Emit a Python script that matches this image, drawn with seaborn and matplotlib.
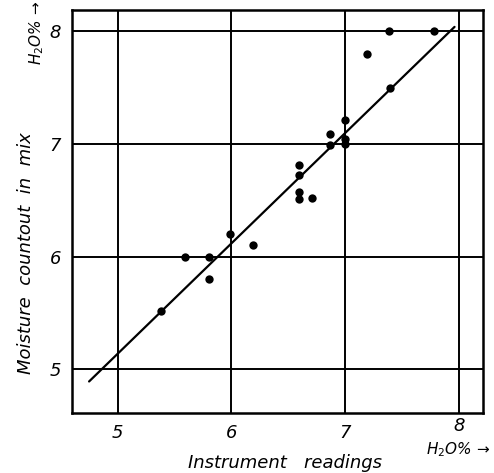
import matplotlib
matplotlib.use("Agg")
import matplotlib.pyplot as plt
import matplotlib.transforms as mtransforms
import seaborn as sns
import pandas as pd

# Data
instrument = [7.38, 7.78, 7.19, 7.39, 7.00, 6.87, 6.87, 7.00, 7.00, 6.59, 6.59, 6.59,
              6.59, 6.71, 5.99, 6.19, 5.59, 5.80, 5.80, 5.38]
moisture = [8.00, 8.00, 7.80, 7.50, 7.21, 7.09, 6.99, 7.04, 7.00, 6.81, 6.72, 6.57,
            6.51, 6.52, 6.20, 6.10, 6.00, 6.00, 5.80, 5.52]
fit_x = [4.75, 7.96]
fit_y = [4.89, 8.04]
ticks = [5, 6, 7, 8]
tick_labels = ["5", "6", "7", "8"]

sns.set_theme(style="white")
plt.rcParams['font.family'] = ['DejaVu Sans']
plt.rcParams['text.color'] = 'black'
plt.rcParams['xtick.color'] = 'black'
plt.rcParams['ytick.color'] = 'black'

fig = plt.figure(figsize=(4.94, 4.73), dpi=100)
ax = fig.add_axes([72 / 494, (473 - 413) / 473, 411 / 494, 403 / 473])

df = pd.DataFrame({"x": instrument, "y": moisture})
fit = pd.DataFrame({"x": fit_x, "y": fit_y})

for t in ticks:
    ax.axvline(t, color="black", lw=1.4, zorder=1)
    ax.axhline(t, color="black", lw=1.4, zorder=1)

sns.lineplot(data=fit, x="x", y="y", ax=ax, color="black", lw=1.6, zorder=2)
sns.scatterplot(data=df, x="x", y="y", ax=ax, color="black", s=36,
                edgecolor="black", linewidth=0, zorder=3)

ax.set_xlim(4.6, 8.21)
ax.set_ylim(4.61, 8.19)
ax.set_xticks(ticks)
ax.set_yticks(ticks)
ax.set_xticklabels(tick_labels, fontsize=13, fontstyle="italic", color="black")
ax.set_yticklabels(tick_labels, fontsize=13, fontstyle="italic", color="black")
ax.tick_params(length=0, pad=8)
ax.set_xlabel("")
ax.set_ylabel("")
for s in ax.spines.values():
    s.set_color("black")
    s.set_linewidth(1.8)

# the "8" label sits a little higher in the reference
lab8 = ax.get_xticklabels()[-1]
lab8.set_transform(lab8.get_transform() + mtransforms.ScaledTranslation(0, 7 / 100, fig.dpi_scale_trans))

fig.text(285 / 494, 1 - 463 / 473, "Instrument   readings", ha="center", va="center",
         fontsize=13, fontstyle="italic", color="black")
fig.text(458 / 494, 1 - 450 / 473, "H$_2$O% →", ha="center", va="center",
         fontsize=11, fontstyle="italic", color="black")
fig.text(26 / 494, 1 - 253 / 473, "Moisture  countout  in  mix", ha="center",
         va="center", rotation=90, fontsize=13, fontstyle="italic", color="black")
fig.text(37 / 494, 1 - 33 / 473, "H$_2$O% →", ha="center", va="center",
         rotation=90, fontsize=11, fontstyle="italic", color="black")

fig.savefig("out.png", dpi=100, facecolor="white")
